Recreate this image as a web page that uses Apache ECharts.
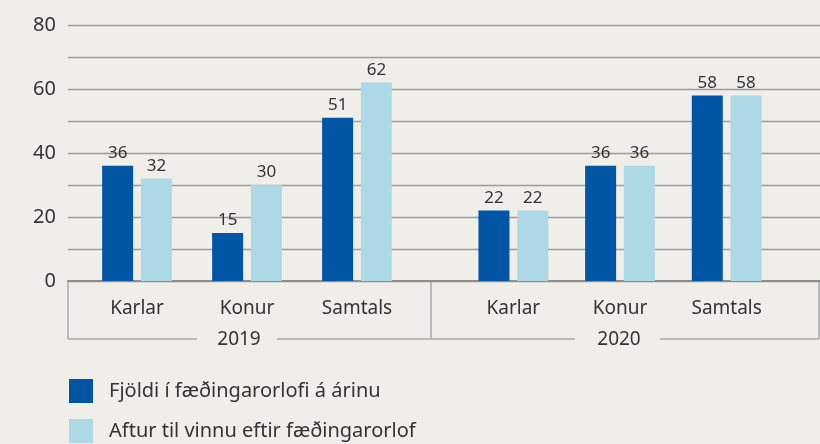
<!DOCTYPE html>
<html><head><meta charset="utf-8">
<script src="https://cdn.jsdelivr.net/npm/echarts@6/dist/echarts.min.js"></script>
<style>html,body{margin:0;padding:0;background:#efeee9;} #c{width:820px;height:444px;}</style>
</head><body><div id="c"></div>
<script>
const categories = ['Karlar', 'Konur', 'Samtals'];
const years = ['2019', '2020'];
const fjoldi2019 = [36, 15, 51];
const aftur2019 = [32, 30, 62];
const fjoldi2020 = [22, 36, 58];
const aftur2020 = [22, 36, 58];
const seriesNames = ['Fjöldi í fæðingarorlofi á árinu', 'Aftur til vinnu eftir fæðingarorlof'];
const yTickLabels = [0, 20, 40, 60, 80];

const FONT = 'Noto Sans';
const DARK = '#0056a4';
const LIGHT = '#add8e6';
const TXT = '#333333';

const chart = echarts.init(document.getElementById('c'), null, {renderer: 'canvas'});
const gTop = 25, gBottom = 163;
const barLabel = {show: true, position: 'top', distance: 4, fontSize: 17, color: TXT, fontFamily: FONT};
function bar(name, data, idx, color) {
  return {name: name, type: 'bar', data: data, xAxisIndex: idx, yAxisIndex: idx,
    barWidth: 31, barGap: '25%', itemStyle: {color: color}, label: barLabel, silent: true};
}
const hiddenY = idx => ({type: 'value', gridIndex: idx, min: 0, max: 80, show: false});
const catX = idx => ({type: 'category', gridIndex: idx, data: categories,
  axisLine: {show: false}, axisTick: {show: false},
  axisLabel: {fontSize: 19, color: TXT, fontFamily: FONT, margin: 18}});

const option = {
  backgroundColor: '#efeee9',
  animation: false,
  grid: [
    {left: 68, right: 0, top: gTop, bottom: gBottom},
    {left: 82, width: 330, top: gTop, bottom: gBottom},
    {left: 460, width: 320, top: gTop, bottom: gBottom}
  ],
  xAxis: [
    {type: 'value', gridIndex: 0, min: 0, max: 1,
      axisLine: {show: true, lineStyle: {color: '#8e8e8e', width: 2}},
      axisTick: {show: false}, axisLabel: {show: false}, splitLine: {show: false}},
    catX(1), catX(2)
  ],
  yAxis: [
    {type: 'value', gridIndex: 0, min: 0, max: 80, interval: 10,
      axisLine: {show: false}, axisTick: {show: false},
      splitLine: {lineStyle: {color: '#9c9c9c', width: 1.3}},
      axisLabel: {fontSize: 20, color: TXT, fontFamily: FONT, margin: 12,
        formatter: v => yTickLabels.indexOf(v) >= 0 ? String(v) : ''}},
    hiddenY(1), hiddenY(2)
  ],
  legend: {
    data: seriesNames, orient: 'vertical', left: 69, top: 379, padding: 0,
    itemWidth: 24, itemHeight: 24, itemGap: 16, icon: 'rect', selectedMode: false,
    textStyle: {fontSize: 20, color: TXT, fontFamily: FONT, padding: [0, 0, 0, 11]}
  },
  series: [
    bar(seriesNames[0], fjoldi2019, 1, DARK),
    bar(seriesNames[1], aftur2019, 1, LIGHT),
    bar(seriesNames[0], fjoldi2020, 2, DARK),
    bar(seriesNames[1], aftur2020, 2, LIGHT)
  ],
  graphic: [
    {type: 'line', shape: {x1: 68, y1: 281, x2: 68, y2: 339}, style: {stroke: '#a8a8a8', lineWidth: 1.5}},
    {type: 'line', shape: {x1: 431, y1: 281, x2: 431, y2: 339}, style: {stroke: '#a8a8a8', lineWidth: 1.5}},
    {type: 'line', shape: {x1: 819, y1: 281, x2: 819, y2: 339}, style: {stroke: '#a8a8a8', lineWidth: 1.5}},
    {type: 'line', shape: {x1: 68, y1: 339, x2: 197, y2: 339}, style: {stroke: '#a8a8a8', lineWidth: 1.5}},
    {type: 'line', shape: {x1: 277, y1: 339, x2: 575, y2: 339}, style: {stroke: '#a8a8a8', lineWidth: 1.5}},
    {type: 'line', shape: {x1: 660, y1: 339, x2: 819, y2: 339}, style: {stroke: '#a8a8a8', lineWidth: 1.5}},
    {type: 'text', x: 239, y: 340, style: {text: years[0], fill: TXT, font: '19px "' + FONT + '"', textAlign: 'center', textVerticalAlign: 'middle'}},
    {type: 'text', x: 619, y: 340, style: {text: years[1], fill: TXT, font: '19px "' + FONT + '"', textAlign: 'center', textVerticalAlign: 'middle'}}
  ]
};
chart.setOption(option);
</script></body></html>
